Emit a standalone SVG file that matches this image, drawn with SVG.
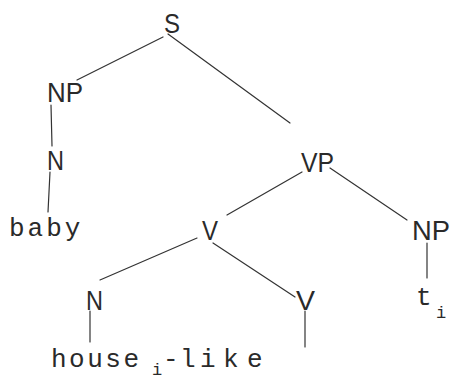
<svg xmlns="http://www.w3.org/2000/svg" width="451" height="381" viewBox="0 0 451 381">
<style>
.lbl{font-family:"Liberation Sans",Arial,sans-serif;font-size:28px;fill:#2a2a2a;}
.mono{font-family:"Liberation Mono","Courier New",monospace;font-size:26px;fill:#2a2a2a;}
.sub{font-family:"Liberation Mono","Courier New",monospace;font-size:17px;fill:#2a2a2a;}
.edges line{stroke:#333;stroke-width:1.2;stroke-linecap:round;}
</style>
<rect width="451" height="381" fill="#fff"/>
<g class="edges" id="connectors">
<line x1="163" y1="37" x2="77" y2="80"/>
<line x1="168" y1="34" x2="290" y2="123"/>
<line x1="51" y1="105" x2="52" y2="146"/>
<line x1="50" y1="172" x2="48" y2="212"/>
<line x1="302" y1="172" x2="227" y2="215"/>
<line x1="330" y1="168" x2="407" y2="220"/>
<line x1="197" y1="238" x2="100" y2="280"/>
<line x1="213" y1="243" x2="295" y2="297"/>
<line x1="427" y1="243" x2="427" y2="278"/>
<line x1="90" y1="311" x2="90" y2="342"/>
<line x1="305" y1="311" x2="305" y2="347"/>
</g>
<g id="S"><text class="lbl" x="164" y="33" textLength="16" lengthAdjust="spacingAndGlyphs">S</text></g>
<g id="NP1"><text class="lbl" x="47" y="102" textLength="36" lengthAdjust="spacingAndGlyphs">NP</text></g>
<g id="N1"><text class="lbl" x="47" y="170" textLength="17" lengthAdjust="spacingAndGlyphs">N</text></g>
<g id="baby"><text class="mono" x="9" y="236" letter-spacing="3">baby</text></g>
<g id="VP"><text class="lbl" x="301" y="172" textLength="33" lengthAdjust="spacingAndGlyphs">VP</text></g>
<g id="V1"><text class="lbl" x="202" y="240" textLength="16" lengthAdjust="spacingAndGlyphs">V</text></g>
<g id="NP2"><text class="lbl" x="412" y="240" textLength="38" lengthAdjust="spacingAndGlyphs">NP</text></g>
<g id="N2"><text class="lbl" x="86" y="310" textLength="17" lengthAdjust="spacingAndGlyphs">N</text></g>
<g id="V2"><text class="lbl" x="296" y="310" textLength="19" lengthAdjust="spacingAndGlyphs">V</text></g>
<g id="t"><text class="mono" x="416" y="305">t</text><text class="sub" x="436" y="318">i</text></g>
<g id="house"><text class="mono" x="51" y="367" letter-spacing="2.5">house</text><text class="sub" x="152" y="375">i</text><text class="mono" x="163 180 200 223 247" y="367">-like</text></g>
</svg>
